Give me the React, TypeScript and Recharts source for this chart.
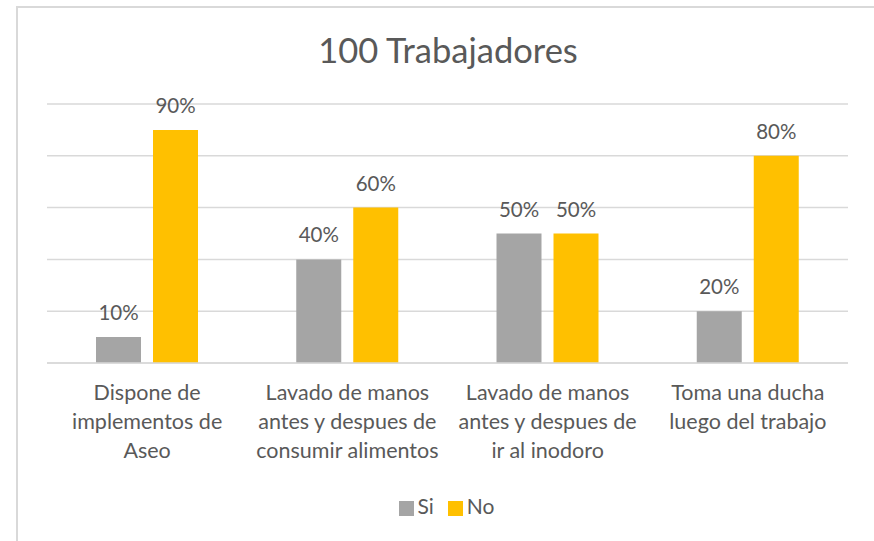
import { BarChart, Bar, XAxis, YAxis, CartesianGrid, Legend, LabelList } from 'recharts'

const categories = [
  'Dispone de\nimplementos de\nAseo',
  'Lavado de manos\nantes y despues de\nconsumir alimentos',
  'Lavado de manos\nantes y despues de\nir al inodoro',
  'Toma una ducha\nluego del trabajo',
]
const siValues = [10, 40, 50, 20]
const noValues = [90, 60, 50, 80]
const yTicks = [0, 20, 40, 60, 80, 100]
const seriesOrder = ['Si', 'No']

const data = categories.map((c, i) => ({ name: c, Si: siValues[i], No: noValues[i] }))

const FONT = 'Lato, "Open Sans", sans-serif'
const TEXT = '#595959'

function CategoryTick(props: any) {
  const { x, y, payload } = props
  const lines = String(payload.value).split('\n')
  return (
    <text x={x} y={y} textAnchor="middle" fill={TEXT} fontSize={21.5} fontFamily={FONT}>
      {lines.map((l: string, i: number) => (
        <tspan key={i} x={x} dy={29}>
          {l}
        </tspan>
      ))}
    </text>
  )
}

export default function App() {
  return (
    <div style={{ position: 'fixed', left: 0, top: 0, width: 874, height: 541, background: '#fff', overflow: 'hidden' }}>
      <div
        style={{
          position: 'absolute',
          left: 16,
          top: 6,
          width: 900,
          height: 600,
          borderTop: '2px solid #d9d9d9',
          borderLeft: '2px solid #d9d9d9',
        }}
      />
      <div
        style={{
          position: 'absolute',
          left: 0,
          top: 29,
          width: 896,
          textAlign: 'center',
          fontFamily: FONT,
          fontSize: 34.5,
          color: TEXT,
        }}
      >
        100 Trabajadores
      </div>
      <div style={{ position: 'absolute', left: 0, top: 0 }}>
        <BarChart
          width={874}
          height={541}
          data={data}
          margin={{ top: 104, right: 26, left: 47, bottom: 0 }}
          barSize={45}
          barGap={12}
        >
          <CartesianGrid vertical={false} stroke="#d9d9d9" strokeWidth={1.5} />
          <YAxis hide domain={[0, 100]} ticks={yTicks} />
          <XAxis
            dataKey="name"
            height={130}
            axisLine={{ stroke: '#d9d9d9', strokeWidth: 1.5 }}
            tickLine={false}
            tick={<CategoryTick />}
            interval={0}
          />
          <Legend
            verticalAlign="bottom"
            height={48}
            iconType="square"
            iconSize={15}
            itemSorter={(e: any) => seriesOrder.indexOf(e.dataKey)}
            wrapperStyle={{ fontFamily: FONT, fontSize: 21, paddingLeft: 6 }}
            formatter={(v: any) => <span style={{ color: TEXT, fontSize: 21, marginRight: 4 }}>{v}</span>}
          />
          <Bar dataKey="Si" fill="#A5A5A5" isAnimationActive={false}>
            <LabelList
              dataKey="Si"
              position="top"
              offset={17}
              fill={TEXT}
              fontSize={20.5}
              fontFamily={FONT}
              formatter={(v: any) => `${v}%`}
            />
          </Bar>
          <Bar dataKey="No" fill="#FFC000" isAnimationActive={false}>
            <LabelList
              dataKey="No"
              position="top"
              offset={17}
              fill={TEXT}
              fontSize={20.5}
              fontFamily={FONT}
              formatter={(v: any) => `${v}%`}
            />
          </Bar>
        </BarChart>
      </div>
    </div>
  )
}
